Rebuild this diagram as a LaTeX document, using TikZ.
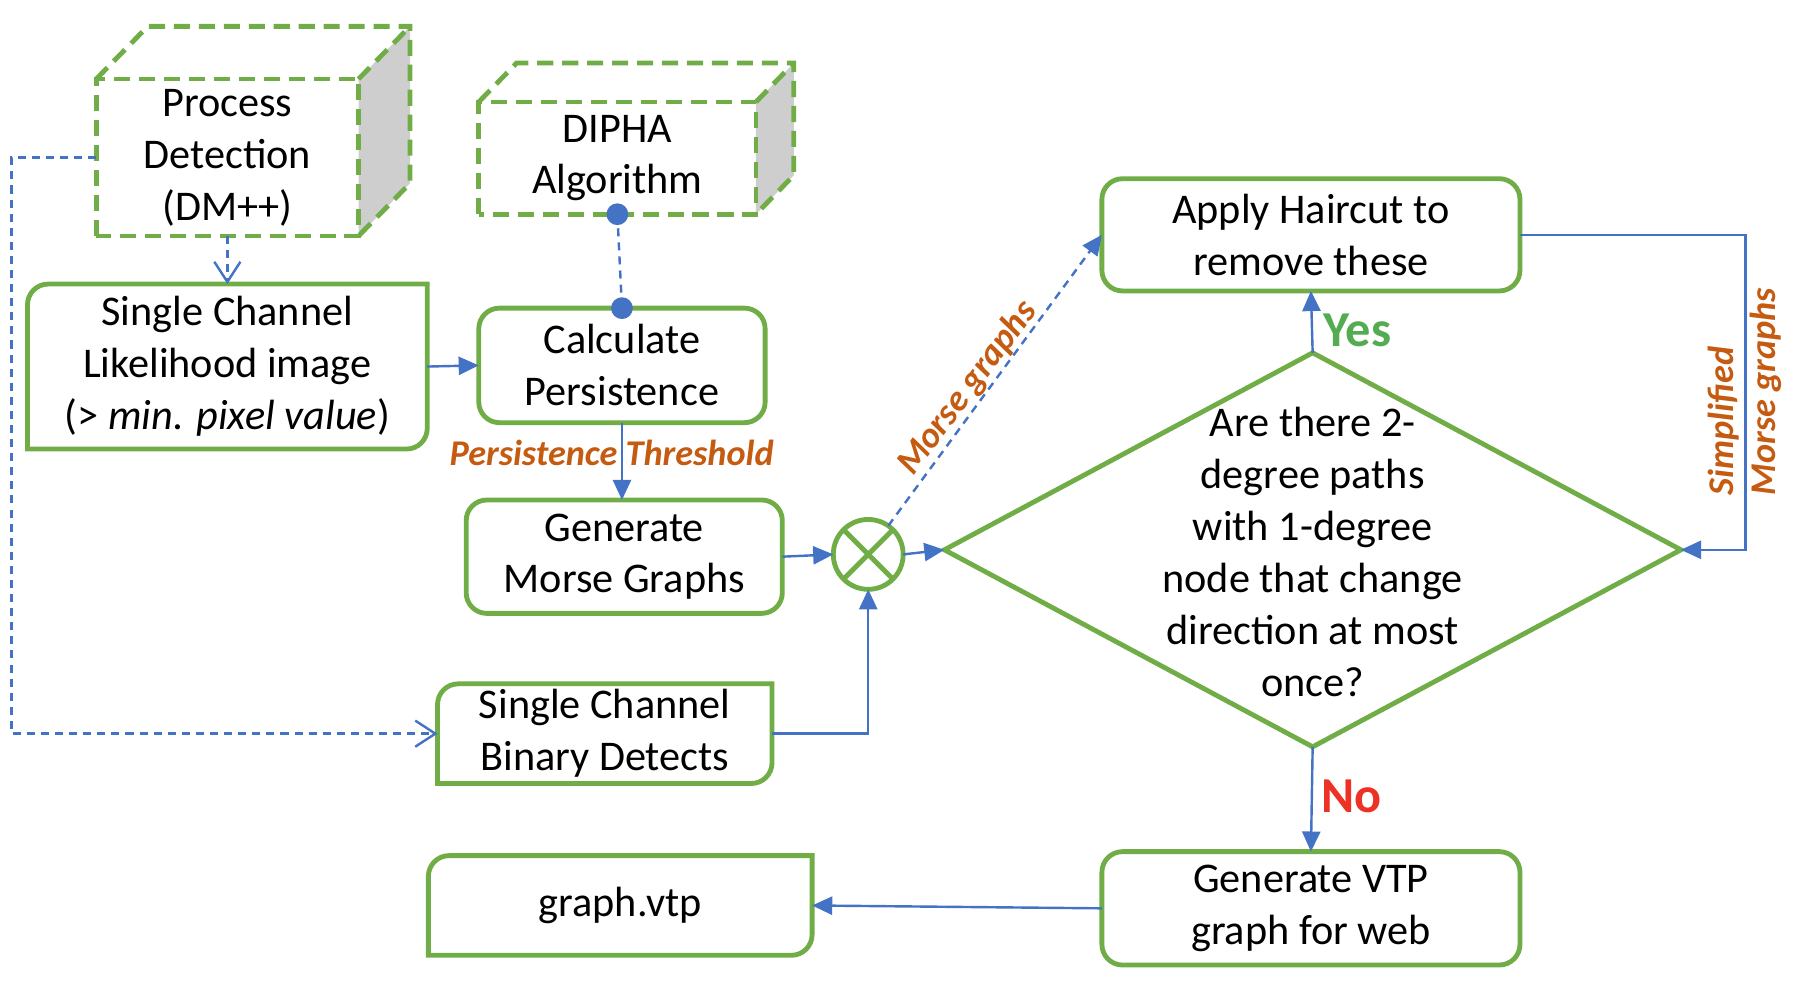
\documentclass[tikz,border=0pt]{standalone}
\usepackage{fontspec}
\setmainfont{Carlito}
\usetikzlibrary{arrows.meta,shapes.geometric}

\definecolor{boxgreen}{RGB}{112,173,71}
\definecolor{linkblue}{RGB}{68,114,196}
\definecolor{labelorange}{RGB}{197,90,17}
\definecolor{yesgreen}{RGB}{84,172,82}
\definecolor{nored}{RGB}{236,50,36}
\definecolor{sidegray}{RGB}{206,206,206}

\newcommand{\boxfont}{\fontsize{10.5}{12.9}\selectfont}

% box with two rounded corners (top left, bottom right)
\newcommand{\halfround}[1]{%
  \draw[boxgreen,line width=1.2pt] ([xshift=0.18cm]#1.north west) -- (#1.north east)
    -- ([yshift=0.18cm]#1.south east) arc[start angle=0,end angle=-90,radius=0.18cm]
    -- (#1.south west) -- ([yshift=-0.18cm]#1.north west)
    arc[start angle=180,end angle=90,radius=0.18cm] -- cycle;}

% dashed cube drawn round a front face
\newcommand{\cube}[3]{%
  \fill[sidegray] (#1.north east) -- ([shift={(#2,#3)}]#1.north east)
    -- ([shift={(#2,#3)}]#1.south east) -- (#1.south east) -- cycle;
  \draw[cubeline] (#1.south west) rectangle (#1.north east);
  \draw[cubeline] (#1.north west) -- ([shift={(#2,#3)}]#1.north west)
    -- ([shift={(#2,#3)}]#1.north east) -- ([shift={(#2,#3)}]#1.south east)
    -- (#1.south east);
  \draw[cubeline] (#1.north east) -- ([shift={(#2,#3)}]#1.north east);}

\begin{document}
\begin{tikzpicture}[
	box/.style={draw=boxgreen, line width=1.2pt, rounded corners=0.18cm, align=center, inner sep=0, outer sep=0, font=\boxfont},
	face/.style={align=center, inner sep=0, outer sep=0, font=\boxfont},
	cubeline/.style={boxgreen, line width=1.2pt, dash pattern=on 4pt off 2.2pt},
	link/.style={draw=linkblue, line width=0.6pt, -{Triangle[length=5pt,width=4.5pt]}},
	dashlink/.style={draw=linkblue, line width=0.6pt, dash pattern=on 2pt off 1.5pt},
	tag/.style={font=\fontsize{9}{10.5}\selectfont\bfseries\itshape, text=labelorange}]
	\useasboundingbox (0,0) rectangle (15.68,-8.68);

	% nodes
	\node[face, minimum width=2.29cm, minimum height=1.37cm] (process) at (1.985,-1.375) {Process\\Detection\\(DM++)};
	\node[face, minimum width=2.42cm, minimum height=0.98cm] (dipha) at (5.39,-1.38) {DIPHA\\Algorithm};
	\node[face, minimum width=3.49cm, minimum height=1.44cm] (likelihood) at (1.985,-3.2) {Single Channel\\Likelihood image\\(> \textit{min. pixel value})};
	\node[box, minimum width=2.5cm, minimum height=1.0cm] (calc) at (5.43,-3.19) {Calculate\\Persistence};
	\node[box, minimum width=2.76cm, minimum height=0.99cm] (morse) at (5.45,-4.86) {Generate\\Morse Graphs};
	\node[face, minimum width=2.92cm, minimum height=0.87cm] (binary) at (5.28,-6.405) {Single Channel\\Binary Detects};
	\node[face, minimum width=3.35cm, minimum height=0.87cm] (vtpfile) at (5.415,-7.905) {graph.vtp};
	\node[box, minimum width=3.65cm, minimum height=0.98cm] (haircut) at (11.445,-2.05) {Apply Haircut to\\remove these};
	\node[box, minimum width=3.65cm, minimum height=0.99cm] (vtp) at (11.445,-7.93) {Generate VTP\\graph for web};
	\node[circle, draw=boxgreen, line width=1.2pt, minimum size=0.61cm, inner sep=0, outer sep=0] (join) at (7.58,-4.84) {};
	\node[diamond, draw=boxgreen, line width=1.2pt, minimum width=6.43cm, minimum height=3.44cm, inner sep=0, outer sep=0] (decide) at (11.46,-4.80) {};
	\node[face] (question) at (11.46,-4.82) {Are there 2-\\degree paths\\with 1-degree\\node that change\\direction at most\\once?};

	\cube{process}{0.45}{0.46}
	\cube{dipha}{0.33}{0.34}
	\halfround{likelihood}
	\halfround{binary}
	\halfround{vtpfile}
	\draw[boxgreen, line width=1.2pt] (join.45) -- (join.225) (join.135) -- (join.315);

	% arrows
	\draw[dashlink, -{Straight Barb[length=5pt,width=6.5pt]}] (process.south) -- (likelihood.north);
	\draw[dashlink, -{Straight Barb[length=5pt,width=6.5pt]}] (process.west) -- ++(-0.74,0) |- (binary.west);
	\draw[dashlink] (dipha.south) -- (calc.north);
	\fill[linkblue] (dipha.south) circle (0.095) (calc.north) circle (0.095);
	\draw[link] (likelihood.east) -- (calc.west);
	\draw[link] (calc.south) -- (calc.south |- morse.north);
	\draw[link] (morse.east) -- (join.west);
	\draw[link] (binary.east) -| (join.south);
	\draw[link] (join.east) -- (decide.west);
	\draw[link, dash pattern=on 2pt off 1.5pt] (join.55) -- (haircut.west);
	\draw[link] (decide.north) -- (haircut.south);
	\draw[link] (haircut.east) -- ++(1.97,0) |- (decide.east);
	\draw[link] (decide.south) -- (vtp.north);
	\draw[link] (vtp.west) -- (vtpfile.east);

	% labels
	\node[tag] (threshold) at (5.34,-3.95) {Persistence Threshold};
	\node[tag, rotate=53] (morsetag) at (8.45,-3.39) {Morse graphs};
	\node[tag, rotate=90, align=left] (simplified) at (15.23,-3.42) {Simplified\\Morse graphs};
	\node[font=\fontsize{12.5}{14}\selectfont\bfseries, text=yesgreen] (yes) at (11.85,-2.88) {Yes};
	\node[font=\fontsize{12.5}{14}\selectfont\bfseries, text=nored] (no) at (11.80,-6.95) {No};
\end{tikzpicture}
\end{document}
